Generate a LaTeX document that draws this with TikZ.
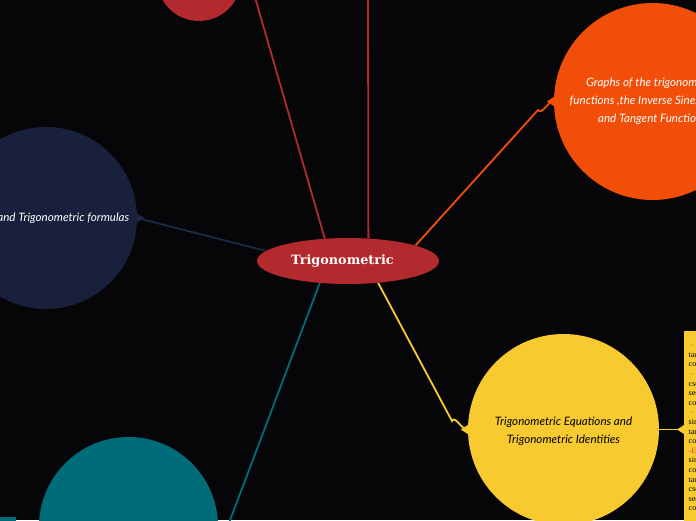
\documentclass[tikz,border=0pt]{standalone}
\usepackage{fontspec}
\setmainfont{Liberation Serif}
\newfontfamily\hand{Lato}
\newfontfamily\titlefont{DejaVu Serif}
\usetikzlibrary{arrows.meta,calc,shapes.geometric}
\pgfdeclarelayer{bglayer}
\pgfdeclarelayer{connlayer}
\pgfsetlayers{bglayer,connlayer,main}
\definecolor{bg}{RGB}{6,6,8}
\definecolor{redc}{RGB}{178,41,46}
\definecolor{orangec}{RGB}{240,78,9}
\definecolor{navyc}{RGB}{25,32,59}
\definecolor{navyl}{RGB}{30,40,72}
\definecolor{yellowc}{RGB}{247,202,47}
\definecolor{tealc}{RGB}{0,108,122}
\definecolor{notered}{RGB}{232,60,50}
\tikzset{
  bubble/.style={circle, inner sep=0pt, align=center, text=white,
    font=\hand\itshape\fontsize{11.6}{18}\selectfont},
  conn/.style={line width=1.8pt},
}
\newcommand{\flareL}[2]{\fill[#1] ($(#2)+(0,-4.5)$) -- ($(#2)+(0,4.5)$) -- ($(#2)+(-7,0)$) -- cycle;}
\newcommand{\flareR}[2]{\fill[#1] ($(#2)+(0,-4)$) -- ($(#2)+(0,4)$) -- ($(#2)+(8,0)$) -- cycle;}
\begin{document}
\begin{tikzpicture}[x=1pt,y=-1pt]
\useasboundingbox (0,0) rectangle (696,520);
\begin{pgfonlayer}{bglayer}
\fill[bg] (0,0) rectangle (696,520);
\end{pgfonlayer}
% coordinates for off-canvas connector ends
\coordinate (topA) at (250,-20);
\coordinate (topB) at (368,-20);
\coordinate (botT) at (215,560);
\coordinate (oknee) at (538,110);
\coordinate (yknee) at (452,421);

% nodes
\node[circle, fill=redc, minimum size=84pt, inner sep=0pt] (redtop) at (199,-21) {};
\node[bubble, fill=orangec, minimum size=197pt] (graphs) at (652.5,101.5)
  {Graphs of the trigonometric\\functions ,the Inverse Sine, Cosine,\\and Tangent Functions};
\node[bubble, fill=navyc, minimum size=182pt] (formulas) at (46,218)
  {Angles and Trigonometric formulas};
\node[bubble, fill=yellowc, minimum size=191pt, text=black] (identities) at (563.5,429.5)
  {\rule{0pt}{13pt}Trigonometric Equations and\\Trigonometric Identities};
\node[circle, fill=tealc, minimum size=179pt, inner sep=0pt] (tealbub) at (128.5,526.5) {};
\node[rectangle, fill=tealc, anchor=north west, minimum width=16pt, minimum height=10pt, inner sep=0pt] (tealnote) at (0,517) {};
\node[rectangle, fill=yellowc, anchor=north west, inner xsep=4.5pt, inner ysep=11pt,
  text width=150pt, align=left, font=\fontsize{8}{9.6}\selectfont] (note) at (684,331)
  {\textcolor{notered}{\ - Quotient identities:}\\
   tan θ = sin θ / cos θ\\
   cot θ = cos θ / sin θ\\
   \textcolor{notered}{\ - Reciprocal identities:}\\
   csc θ = 1 / sin θ\\
   sec θ = 1 / cos θ\\
   cot θ = 1 / tan θ\\
   \textcolor{notered}{\ - Pythagorean identities:}\\
   sin²θ + cos²θ = 1\\
   tan²θ + 1 = sec²θ\\
   cot²θ + 1 = csc²θ\\
   \textcolor{notered}{-Even-odd identities:}\\
   sin(-θ) = -sin θ\\
   cos(-θ) = cos θ\\
   tan(-θ) = -tan θ\\
   csc(-θ) = -csc θ\\
   sec(-θ) = sec θ\\
   cot(-θ) = -cot θ};

\node[ellipse, fill=redc, minimum width=182pt, minimum height=46pt, inner sep=0pt,
  text=white, font=\titlefont\bfseries\fontsize{12.8}{15}\selectfont] (center) at (348,261)
  {\raisebox{-1.5pt}{Trigonometric}\kern11pt\null};

\begin{pgfonlayer}{connlayer}
\draw[conn, redc] (topA) -- (center.136);
\draw[conn, redc] (topB) -- (center.48);
\draw[conn, orangec] (center.13) -- (oknee) to[out=-47,in=180] (graphs.west);
\draw[conn, navyl] (center.173.5) -- (formulas.east);
\draw[conn, yellowc] (center.324) -- (yknee) to[out=61,in=180] (identities.west);
\draw[conn, yellowc] (identities.east) -- (identities.east -| note.west);
\draw[conn, tealc] (center.218) -- (botT);
\end{pgfonlayer}
% flared ends of the connectors
\flareL{orangec}{graphs.west}
\flareR{navyl}{formulas.east}
\flareL{yellowc}{identities.west}
\flareL{yellowc}{identities.east -| note.west}
\end{tikzpicture}
\end{document}
